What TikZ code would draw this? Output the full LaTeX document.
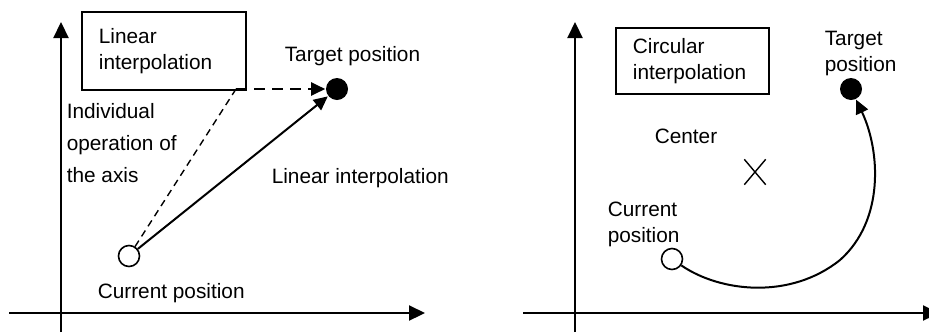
\documentclass[tikz,border=0pt]{standalone}
\usepackage{fontspec}
\setmainfont{Liberation Sans}
\usetikzlibrary{arrows.meta, positioning, shapes.misc}

\begin{document}
\begin{tikzpicture}[x=0.5pt, y=-0.5pt, thick,
  txt/.style={anchor=base west, inner sep=0pt, align=left,
    font=\fontsize{10.4}{13}\selectfont},
  modebox/.style={draw, line width=0.9pt, anchor=north west, inner ysep=0pt,
    inner xsep=8.5pt, align=left, font=\fontsize{10.4}{13}\selectfont},
  axis/.style={line width=1.1pt, -{Triangle[length=8pt, width=7.5pt]}},
  move/.style={line width=1pt, -{Triangle[length=7pt, width=6.5pt]}},
  posfree/.style={circle, draw, fill=white, line width=0.8pt, minimum size=10.5pt, inner sep=0pt},
  posgoal/.style={circle, fill=black, minimum size=11pt, inner sep=0pt}]
  \useasboundingbox (0,0) rectangle (929,333);

  % Eixos dos dois graficos
  \foreach \ox/\xe [count=\i] in {61/425, 575/939} {
    \coordinate (ybot\i) at (\ox,332);
    \coordinate (ytop\i) at (\ox,22);
    \coordinate (xbeg\i) at (\ox-52,313);
    \coordinate (xend\i) at (\xe,313);
    \draw[axis] (ybot\i) -- (ytop\i);
    \draw[axis] (xbeg\i) -- (xend\i);
  }

  % Interpolacao linear
  \node[modebox, text width=65pt, minimum height=39pt] (linbox) at (81,11) {Linear\\interpolation};
  \node[posfree] (curA) at (129,256) {};
  \node[posgoal] (tgtA) at (337,89) {};
  \coordinate (cornerA) at (236,89);
  \draw[dashed, line width=0.7pt, dash pattern=on 3.5pt off 2.5pt] (curA) -- (cornerA);
  \draw[move, line width=1.1pt, dash pattern=on 5.5pt off 3.5pt] (cornerA) -- (tgtA);
  \draw[move] (curA) -- (tgtA);
  \node[txt] (tgtlblA) at (284,61) {Target position};
  \node[txt, font=\fontsize{10.4}{16}\selectfont] (indlbl) at (66,182) {Individual\\operation of\\the axis};
  \node[txt] (linlbl) at (271,183) {Linear interpolation};
  \node[txt] (curlblA) at (97,298) {Current position};

  % Interpolacao circular
  \node[modebox, text width=59.5pt, minimum height=33pt] (circbox) at (615,27) {Circular\\interpolation};
  \node[posfree] (curB) at (672,259) {};
  \node[posgoal] (tgtB) at (851,89) {};
  \node[cross out, draw, line width=0.7pt, minimum width=10pt, minimum height=12pt, inner sep=0pt] (ctr) at (755,172) {};
  \draw[move] (curB) .. controls (720,292) and (790,300) .. (840,260)
    .. controls (885,220) and (880,150) .. (tgtB);
  \node[txt] (tgtlblB) at (824,71) {Target\\position};
  \node[txt] (ctrlbl) at (654,143) {Center};
  \node[txt] (curlblB) at (607,242) {Current\\position};
\end{tikzpicture}
\end{document}
